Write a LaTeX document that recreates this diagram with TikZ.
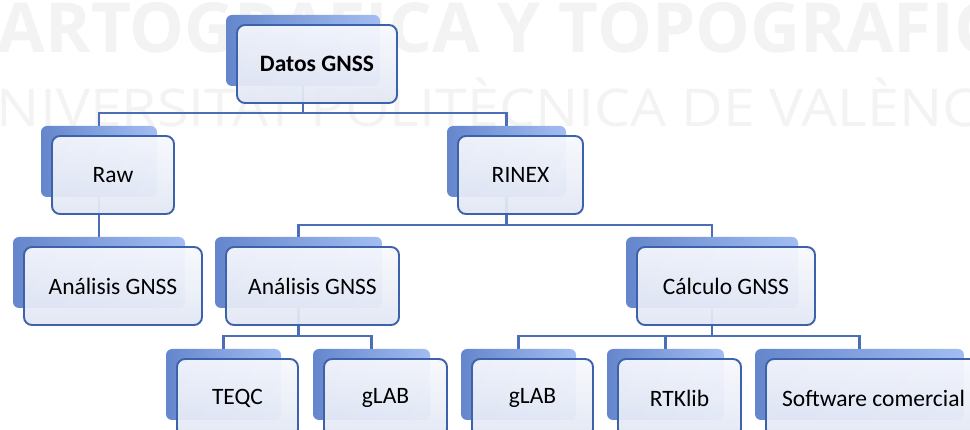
\documentclass[tikz,border=0pt]{standalone}
\usepackage{fontspec}
\setmainfont{Carlito}
\newfontfamily\wmfont{Open Sans}
\usetikzlibrary{calc}
\pgfdeclarelayer{wm}
\pgfdeclarelayer{lines}
\pgfsetlayers{wm,lines,main}
\definecolor{conncol}{HTML}{4A6FB6}
\definecolor{bordercol}{HTML}{3D62AC}
\definecolor{shadL}{HTML}{6586CC}
\definecolor{shadR}{HTML}{A2BDF2}
\definecolor{frontT}{HTML}{F8F9FD}
\definecolor{frontB}{HTML}{E2E7F4}
\definecolor{wmcol}{HTML}{F3F3F3}
\tikzset{
  shadowbox/.style={rounded corners=6pt, left color=shadL, right color=shadR, draw=none, inner sep=0pt, outer sep=0pt, minimum height=71pt},
  frontbox/.style={rounded corners=8pt, top color=frontT, bottom color=frontB, draw=bordercol, line width=1.9pt, fill opacity=0.93, text opacity=1, inner sep=0pt, outer sep=0pt, minimum height=78pt, font=\fontsize{23.5}{28}\selectfont},
  conn/.style={draw=conncol, line width=2.4pt},
  wmtext/.style={text=wmcol, inner sep=0pt, outer sep=0pt}
}
\newcommand{\gbox}[5]{%
  \node[shadowbox, minimum width={#4pt-6pt}] (#1s) at (#2-14, #3-13.5) {};
  \node[frontbox, minimum width={#4pt}] (#1) at (#2, #3) {#5};
}
\begin{document}
\begin{tikzpicture}[x=1pt,y=-1pt]
\useasboundingbox (0,0) rectangle (970,430);
\begin{pgfonlayer}{wm}
  \fill[white] (0,0) rectangle (970,430);
  \begin{scope}
  \clip (0,0) rectangle (970,430);
  \node[wmtext, anchor=base west, font=\wmfont\bfseries\fontsize{69}{69}\selectfont] (wm1) at (-2,53) {ARTOGRAFICA Y TOPOGRAFICA};
  \node[wmtext, anchor=base west, font=\wmfont\fontsize{52}{52}\selectfont] (wm2) at (-3,127) {\scalebox{1.1}[1]{NIVERSITAT POLITÈCNICA DE VALÈNCIA}};
  \end{scope}
\end{pgfonlayer}
\begin{scope}
\clip (0,0) rectangle (970,430);
\gbox{datos}{317}{64}{160}{\bfseries Datos GNSS}
\gbox{raw}{113}{175}{122}{Raw}
\gbox{rinex}{520.5}{175}{125}{RINEX}
\gbox{anaA}{113}{286}{178}{Análisis GNSS}
\gbox{anaB}{312.5}{286}{173}{Análisis GNSS}
\gbox{calc}{726}{286}{178}{Cálculo GNSS}
\gbox{teqc}{237.5}{398}{121}{TEQC}
\gbox{glabA}{385.5}{398}{123}{gLAB}
\gbox{glabB}{532.5}{398}{121}{gLAB}
\gbox{rtk}{679.5}{398}{123}{RTKlib}
\gbox{soft}{873.5}{398}{215}{Software comercial}
\end{scope}
\coordinate (b1) at (0,113);
\coordinate (b2) at (0,225);
\coordinate (b3) at (0,336);
\begin{pgfonlayer}{lines}
  \draw[conn] (datoss.south) -- (datoss.south |- b1) -| (raws.north);
  \draw[conn] (datoss.south |- b1) -| (rinexs.north);
  \draw[conn] (raws.south) -- (anaAs.north);
  \draw[conn] (rinexs.south) -- (rinexs.south |- b2) -| (anaBs.north);
  \draw[conn] (rinexs.south |- b2) -| (calcs.north);
  \draw[conn] (anaBs.south) -- (anaBs.south |- b3) -| (teqcs.north);
  \draw[conn] (anaBs.south |- b3) -| (glabAs.north);
  \draw[conn] (calcs.south) -- (calcs.south |- b3) -| (glabBs.north);
  \draw[conn] (calcs.south |- b3) -| (rtks.north);
  \draw[conn] (calcs.south |- b3) -| (softs.north);
\end{pgfonlayer}
\end{tikzpicture}
\end{document}
